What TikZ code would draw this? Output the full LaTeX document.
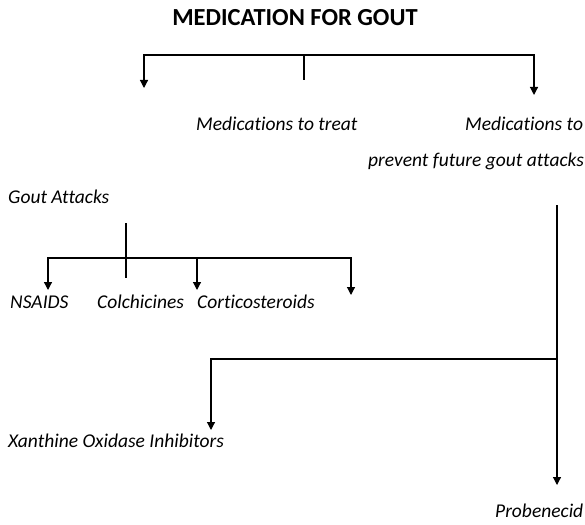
\documentclass[tikz,border=0pt]{standalone}
\usepackage{fontspec}
\setmainfont{Carlito}[Ligatures={NoCommon}]
\usetikzlibrary{arrows.meta}
\begin{document}
\begin{tikzpicture}[x=1pt,y=-1pt,
  lbl/.style={font=\fontsize{19.5}{23}\selectfont\itshape, inner sep=0pt, anchor=west},
  ttl/.style={font=\fontsize{24.5}{29}\selectfont\bfseries, inner sep=0pt},
  ln/.style={line width=1.2pt, black},
  arr/.style={ln, -{Triangle[length=8pt,width=8pt]}}]
\useasboundingbox (0,0) rectangle (585,524);
\node[ttl] (title) at (295,18) {MEDICATION FOR GOUT};
\node[lbl] (treat) at (196,124) {Medications to treat};
\node[lbl] (prev1) at (465,124) {Medications to};
\node[lbl] (prev2) at (368,161) {prevent future gout attacks};
\node[lbl] (gout) at (8,197) {Gout Attacks};
\node[lbl] (nsaids) at (10,302) {NSAIDS};
\node[lbl] (colch) at (97,302) {Colchicines};
\node[lbl] (cort) at (197,302) {Corticosteroids};
\node[lbl] (xan) at (8,441) {Xanthine Oxidase Inhibitors};
\node[lbl] (prob) at (495,511) {Probenecid};
% top bracket
\coordinate (t0) at (304,80);
\coordinate (tm) at (304,55);
\coordinate (tl) at (144,55);
\coordinate (tr) at (534,55);
\coordinate (tla) at (144,88);
\coordinate (tra) at (534,95);
\draw[ln] (t0) -- (tm);
\draw[arr] (tm) -- (tl) -- (tla);
\draw[arr] (tm) -- (tr) -- (tra);
% gout bracket
\coordinate (g0) at (126,223);
\coordinate (g1) at (126,278);
\coordinate (gm) at (126,258);
\coordinate (gl) at (48,258);
\coordinate (gc) at (197,258);
\coordinate (gr) at (351,258);
\coordinate (gla) at (48,290);
\coordinate (gca) at (197,290);
\coordinate (gra) at (351,295);
\draw[ln] (g0) -- (g1);
\draw[arr] (gm) -- (gl) -- (gla);
\draw[arr] (gm) -- (gc) -- (gca);
\draw[arr] (gc) -- (gr) -- (gra);
% prevent bracket
\coordinate (p0) at (557,205);
\coordinate (pm) at (557,359);
\coordinate (pl) at (211,359);
\coordinate (pla) at (211,430);
\coordinate (pra) at (557,485);
\draw[arr] (p0) -- (pra);
\draw[arr] (pm) -- (pl) -- (pla);
\end{tikzpicture}
\end{document}
